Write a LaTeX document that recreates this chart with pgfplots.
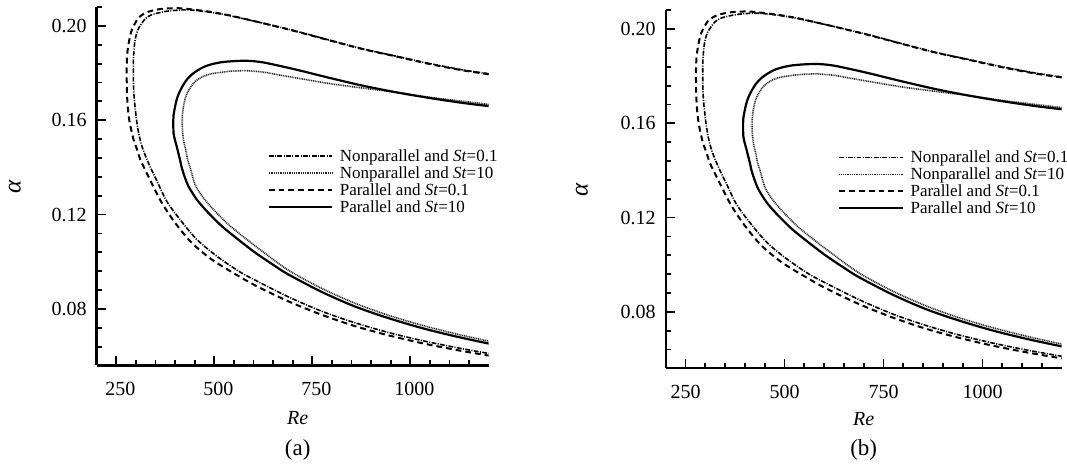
\documentclass[border=0pt]{standalone}
\usepackage{fontspec}
\setmainfont{Liberation Serif}
\usepackage{pgfplots}
\pgfplotsset{compat=1.18}
\usepackage{pgfplotstable}

% neutral curves (Re, alpha)
\pgfplotstableread{
Re alpha
1200 0.1797
1135 0.1813
1050 0.1840
965 0.1871
880 0.1902
795 0.1939
710 0.1977
625 0.2011
540 0.2043
500 0.2055
460 0.2064
425 0.2068
383 0.2063
360 0.2056
340 0.2047
325 0.2032
315 0.2011
307 0.1990
302 0.1969
298 0.1940
296 0.1913
294 0.1870
293.5 0.1828
293.5 0.1780
294.3 0.1729
296 0.1687
298.6 0.1645
302 0.1596
307 0.1546
313 0.1503
321.5 0.1461
332 0.1419
344 0.1375
353 0.1345
378.5 0.1257
412.5 0.1179
455 0.1095
506 0.1024
561 0.0961
604 0.0922
689 0.0851
774 0.0790
859 0.0741
944 0.0700
1029 0.0666
1114 0.0637
1200 0.0611
}\nonparA

\pgfplotstableread{
Re alpha
1200 0.1667
1135 0.1680
1050 0.1697
965 0.1718
880 0.1736
795 0.1755
710 0.1779
665 0.1792
625 0.1804
582 0.1810
560 0.1809
536 0.1807
493 0.1797
475 0.1788
459 0.1774
447 0.1757
438 0.1736
430 0.1712
425 0.1687
421 0.1655
418.5 0.1617
418.3 0.1580
419.3 0.1546
422 0.1510
427 0.1476
432 0.1433
440 0.1390
451 0.1327
472 0.1271
502 0.1214
536 0.1158
578 0.1101
621 0.1046
689 0.0964
774 0.0887
859 0.0824
944 0.0773
1029 0.0731
1114 0.0695
1200 0.0663
}\nonparB

\pgfplotstableread{
Re alpha
1200 0.1795
1135 0.1811
1050 0.1838
965 0.1870
880 0.1901
795 0.1938
710 0.1976
625 0.2011
540 0.2044
495 0.2058
451 0.2068
408 0.2075
366 0.2072
340 0.2064
323 0.2054
307 0.2035
298 0.2011
290 0.1985
285 0.1955
281 0.1920
278 0.1884
276.5 0.1830
276.5 0.1786
277 0.1735
278 0.1687
280 0.1645
283 0.1602
288 0.1560
294 0.1518
303 0.1475
312 0.1430
325 0.1385
340 0.1334
366 0.1250
400 0.1165
442 0.1081
493 0.1010
553 0.0948
604 0.0900
689 0.0832
774 0.0775
859 0.0727
944 0.0688
1029 0.0655
1114 0.0627
1200 0.0602
}\parA

\pgfplotstableread{
Re alpha
1200 0.1660
1135 0.1673
1050 0.1694
965 0.1718
880 0.1746
795 0.1779
710 0.1814
665 0.1831
625 0.1845
595 0.1851
574 0.1852
545 0.1850
519 0.1846
495 0.1838
476 0.1828
458 0.1812
442 0.1793
429 0.1770
418.5 0.1743
410 0.1715
404 0.1687
399 0.1650
396 0.1620
395.5 0.1602
395.5 0.1575
396 0.1546
399 0.1520
404 0.1490
408 0.1462
412.5 0.1433
416 0.1405
421 0.1377
427 0.1348
434 0.1320
444 0.1292
455 0.1264
469 0.1236
485 0.1207
519 0.1151
561 0.1094
604 0.1039
650 0.0987
689 0.0946
774 0.0872
859 0.0810
944 0.0761
1029 0.0719
1114 0.0684
1200 0.0653
}\parB

\pgfplotsset{
  panel/.style={
    scale only axis,
    xmin=200, xmax=1200, ymin=0.056, ymax=0.208,
    axis x line=bottom, axis y line=left,
    axis line style={-, line width=1.2pt},
    tick align=inside,
    xtick={250,500,750,1000},
    minor xtick={300,350,400,450,550,600,650,700,800,850,900,950,1050,1100,1150},
    ytick={0.08,0.12,0.16,0.20},
    minor ytick={0.064,0.072,0.088,0.096,0.104,0.112,0.128,0.136,0.144,0.152,0.168,0.176,0.184,0.192,0.208},
    major tick length=4.7pt, minor tick length=2.8pt,
    every tick/.style={black, line width=0.9pt},
    tick label style={font=\fontsize{10}{12}\selectfont},
    /pgf/number format/assume math mode=true,
    xticklabel style={/pgf/number format/1000 sep={}, yshift=-4.7pt},
    yticklabel style={/pgf/number format/.cd, fixed, fixed zerofill, precision=2, /tikz/.cd, xshift=-1.5pt},
    xlabel={\textit{Re}},
    ylabel={\fontsize{12.5}{14}\selectfont\textit{α}},
    label style={font=\fontsize{10}{12}\selectfont},
    legend style={draw=none, fill=none, inner sep=0pt, anchor=north west,
      font=\fontsize{8.5}{8.5}\selectfont, cells={anchor=west},
      nodes={inner sep=0pt, text height=7pt, text depth=1.5pt},
      row sep=0pt, column sep=3.2pt},
    legend image code/.code={\draw[##1] (0pt,0pt) -- (31.8pt,0pt);},
  },
  npA/.style={black, line width=0.8pt, dash pattern=on 2.4pt off 0.7pt on 0.5pt off 0.7pt},
  npB/.style={black!85, line width=0.8pt, dash pattern=on 0.5pt off 0.4pt},
  pA/.style={black, line width=1pt, dash pattern=on 2.9pt off 2pt},
  pB/.style={black, line width=1.1pt},
}

\begin{document}
\begin{tikzpicture}
\begin{axis}[panel, width=196pt, height=179.25pt,
  every axis x label/.style={at={(axis description cs:0.5128,-0.146)}, anchor=center},
  every axis y label/.style={at={(axis description cs:-0.2087,0.5)}, anchor=center, rotate=90},
  title={(a)},
  every axis title/.style={at={(axis description cs:0.5128,-0.236)}, anchor=center, font=\fontsize{11.5}{13}\selectfont},
  xticklabel style={xshift=2pt},
  legend style={at={(axis description cs:0.435,0.610)}},
]
\addplot[npA, smooth] table[x=Re, y=alpha] {\nonparA};
\addlegendentry{Nonparallel and \textit{St}=0.1}
\addplot[npB, smooth] table[x=Re, y=alpha] {\nonparB};
\addlegendentry{Nonparallel and \textit{St}=10}
\addplot[pA, smooth] table[x=Re, y=alpha] {\parA};
\addlegendentry{Parallel and \textit{St}=0.1}
\addplot[pB, smooth] table[x=Re, y=alpha] {\parB};
\addlegendentry{Parallel and \textit{St}=10}
\end{axis}

\begin{axis}[panel, width=198pt, height=179pt, at={(284.5pt,-1.4pt)},
  every axis x label/.style={at={(axis description cs:0.5,-0.141)}, anchor=center},
  every axis y label/.style={at={(axis description cs:-0.212,0.5)}, anchor=center, rotate=90},
  title={(b)},
  every axis title/.style={at={(axis description cs:0.5,-0.228)}, anchor=center, font=\fontsize{11.5}{13}\selectfont},
  legend style={at={(axis description cs:0.435,0.614)}},
]
\addplot[npA, smooth] table[x=Re, y=alpha] {\nonparA};
\addlegendentry{Nonparallel and \textit{St}=0.1}
\addplot[npB, smooth] table[x=Re, y=alpha] {\nonparB};
\addlegendentry{Nonparallel and \textit{St}=10}
\addplot[pA, smooth] table[x=Re, y=alpha] {\parA};
\addlegendentry{Parallel and \textit{St}=0.1}
\addplot[pB, smooth] table[x=Re, y=alpha] {\parB};
\addlegendentry{Parallel and \textit{St}=10}
\end{axis}

\pgfresetboundingbox
\path[use as bounding box] (-48.35pt,-52.75pt) rectangle (485.15pt,182.75pt);
\end{tikzpicture}
\end{document}
